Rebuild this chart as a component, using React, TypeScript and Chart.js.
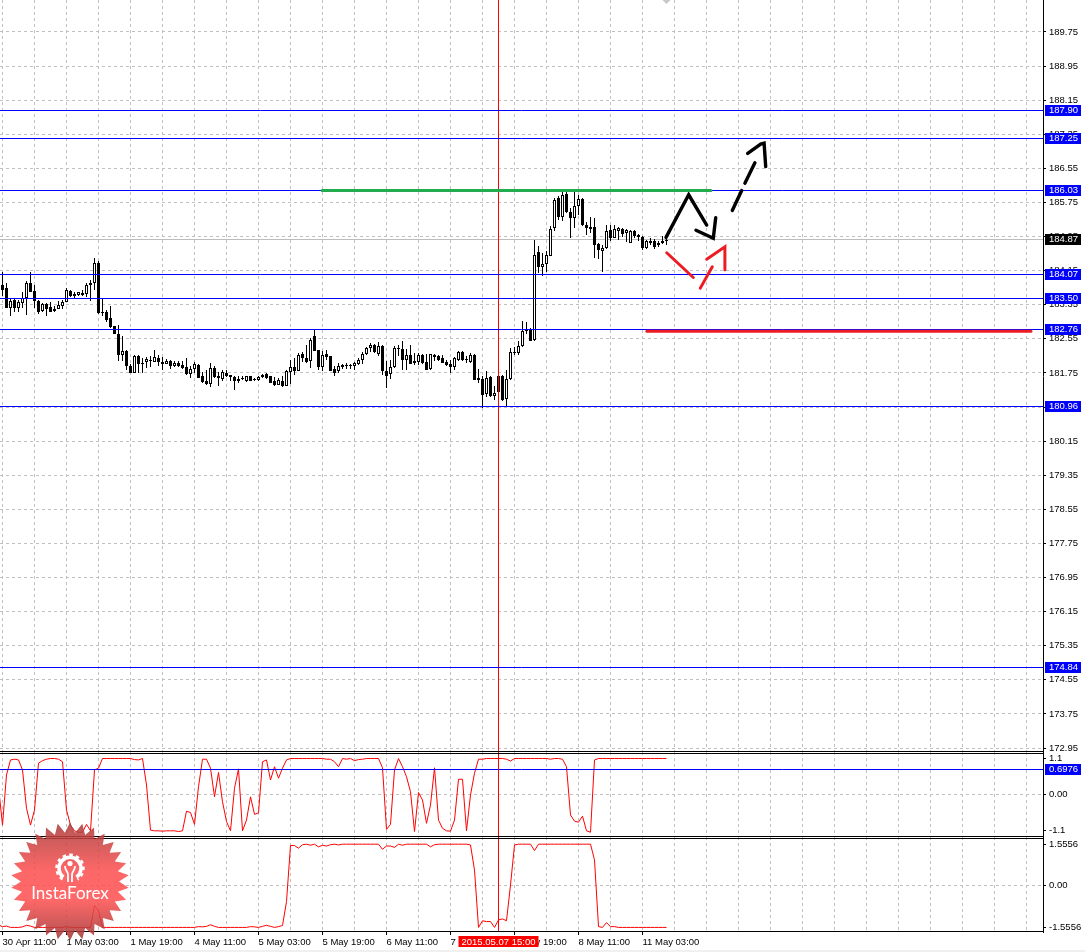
import React, { useEffect, useRef } from "react";
import { Chart, registerables } from "chart.js";
Chart.register(...registerables);

const opens = [183.82,183.74,183.27,183.47,183.27,183.39,183.51,183.87,183.68,183.44,
183.21,183.37,183.30,183.26,183.26,183.33,183.41,183.68,183.55,183.58,
183.62,183.61,183.81,183.86,184.33,183.17,183.19,183.04,182.86,182.67,
182.18,182.27,181.92,181.76,182.15,181.99,182.00,182.06,182.01,182.11,
182.01,181.97,182.04,181.92,181.98,181.94,181.90,181.72,181.84,181.94,
181.68,181.57,181.48,181.86,181.67,181.61,181.75,181.71,181.66,181.55,
181.61,181.55,181.67,181.61,181.58,181.65,181.73,181.67,181.55,181.47,
181.57,181.45,181.77,181.90,181.80,182.20,182.10,182.04,182.62,182.29,
181.88,182.20,182.14,181.85,181.79,181.93,181.94,181.93,181.92,181.96,
182.05,182.19,182.34,182.41,182.19,182.39,181.80,181.72,181.88,182.34,
182.32,182.05,182.18,182.03,182.01,182.17,182.01,181.84,182.18,182.14,
182.09,182.00,181.95,181.88,182.06,182.23,182.07,182.01,182.17,181.58,
181.61,181.26,181.65,181.22,181.67,181.69,181.14,181.61,182.25,182.22,
182.39,182.76,182.78,182.53,184.59,184.23,184.30,184.50,185.14,185.85,
185.41,185.95,185.52,185.38,185.67,185.84,185.23,185.18,185.18,184.77,
184.60,184.67,185.10,184.92,185.09,185.13,185.03,184.81,185.08,184.99,
184.95,184.67,184.84,184.84,184.75,184.84,184.86];

const highs = [184.13,183.86,183.48,183.51,183.47,183.66,183.90,184.13,183.82,183.47,
183.39,183.39,183.41,183.31,183.43,183.45,183.74,183.70,183.66,183.66,
183.69,183.86,183.94,184.45,184.37,183.51,183.22,183.31,182.86,182.88,
182.61,182.29,181.95,182.18,182.18,182.10,182.12,182.15,182.29,182.18,
182.12,182.08,182.06,182.02,182.02,182.02,182.10,181.92,182.00,181.97,
181.78,181.83,181.98,181.92,181.77,181.83,181.81,181.71,181.68,181.67,
181.68,181.68,181.69,181.63,181.68,181.73,181.75,181.69,181.65,181.63,
181.67,181.81,182.05,182.10,182.22,182.24,182.41,182.57,182.76,182.30,
182.26,182.28,182.14,181.91,181.98,181.97,181.98,181.96,182.00,182.09,
182.23,182.37,182.45,182.44,182.47,182.41,182.02,182.05,182.39,182.41,
182.51,182.31,182.41,182.22,182.22,182.19,182.19,182.20,182.19,182.18,
182.18,182.05,182.06,182.12,182.26,182.26,182.14,182.22,182.19,181.85,
181.67,181.79,181.67,181.44,181.67,181.71,181.83,182.34,182.37,182.49,
182.98,182.94,182.80,184.88,184.73,184.56,184.60,185.20,185.85,185.89,
186.01,186.01,185.62,186.01,185.92,185.85,185.29,185.41,185.38,184.80,
184.76,185.23,185.23,185.23,185.17,185.14,185.12,185.11,185.11,185.02,
184.97,184.88,184.91,184.89,184.85,184.97,184.97];

const lows = [183.55,183.27,183.08,183.19,183.17,183.27,183.12,183.66,183.27,183.14,
183.19,183.08,183.17,183.18,183.26,183.26,183.41,183.53,183.51,183.56,
183.55,183.53,183.43,183.69,183.14,183.08,182.94,182.80,182.66,182.04,
182.04,181.83,181.76,181.76,181.76,181.76,181.86,181.90,182.00,181.92,
181.83,181.96,181.84,181.88,181.90,181.85,181.71,181.63,181.75,181.62,
181.51,181.47,181.43,181.64,181.45,181.55,181.65,181.55,181.36,181.51,
181.59,181.53,181.55,181.55,181.57,181.63,181.61,181.51,181.45,181.46,
181.41,181.44,181.48,181.71,181.79,182.00,181.98,181.87,182.26,181.81,
181.79,182.05,181.79,181.69,181.76,181.85,181.85,181.85,181.83,181.93,
181.96,182.16,182.24,182.22,182.14,181.71,181.40,181.61,181.87,182.14,
181.83,181.83,181.96,181.94,181.94,181.96,181.83,181.83,182.02,182.02,
181.98,181.91,181.76,181.83,182.02,182.02,181.98,181.98,181.58,181.51,
180.93,181.19,181.19,181.12,181.30,181.10,180.98,181.59,182.18,182.18,
182.37,182.67,182.51,182.51,184.09,184.02,184.13,184.49,185.07,185.35,
185.31,185.50,184.91,185.15,185.46,185.19,184.99,185.03,184.45,184.43,
184.11,184.66,184.84,184.91,184.86,184.94,184.82,184.80,184.91,184.84,
184.63,184.66,184.76,184.66,184.70,184.77,184.76];

const closes = [183.70,183.27,183.44,183.27,183.42,183.52,183.87,183.66,183.43,183.19,
183.37,183.26,183.19,183.21,183.35,183.42,183.69,183.55,183.60,183.64,
183.59,183.81,183.86,184.33,183.16,183.16,183.00,182.82,182.67,182.16,
182.27,181.92,181.76,182.15,181.97,181.98,182.08,182.02,182.12,182.01,
181.97,182.04,181.92,181.98,181.92,181.86,181.72,181.84,181.97,181.64,
181.54,181.48,181.86,181.65,181.63,181.77,181.67,181.65,181.56,181.61,
181.64,181.67,181.56,181.58,181.65,181.71,181.62,181.51,181.47,181.59,
181.44,181.80,181.90,181.80,182.18,182.09,182.01,182.53,182.27,181.88,
182.18,182.12,181.80,181.76,181.92,181.90,181.91,181.92,181.98,182.06,
182.20,182.34,182.41,182.24,182.39,181.80,181.69,181.88,182.34,182.31,
182.05,182.16,181.97,181.98,182.18,181.99,181.83,182.19,182.12,182.05,
181.98,181.94,181.88,182.10,182.23,182.06,182.06,182.18,181.59,181.63,
181.24,181.62,181.22,181.28,181.30,181.12,181.61,182.25,182.22,182.39,
182.74,182.73,182.51,184.52,184.23,184.30,184.52,185.13,185.81,185.42,
185.93,185.52,185.38,185.67,185.84,185.21,185.14,185.13,184.76,184.63,
184.68,185.08,184.91,185.13,185.15,185.02,185.10,185.07,184.97,184.95,
184.68,184.84,184.80,184.70,184.81,184.81,184.87];

// First entry belongs to the bar just left of the visible window.
const stochValues = [0.21,-0.86,0.54,0.96,0.98,0.96,0.68,-0.39,-0.86,-0.44,
0.87,0.94,0.98,1,1,0.98,0.91,-0.44,-0.86,-1.02,
-1.06,-1.06,-0.84,-1.02,0.68,0.73,
1,1,1,1,1,1,1,1,
0.97,0.96,1,0.26,-1,-1.02,-1.02,-1.03,-1.02,-1.02,-1.02,-1.04,-1.02,
-0.47,-0.51,-0.84,0.21,0.98,0.98,0.73,-0.07,0.61,-0.21,-0.76,-1.02,
0.17,0.71,-1.02,-0.72,-0.07,-0.56,-0.52,0.91,0.96,0.4,0.77,0.45,0.73,0.96,
1,1,1,1,1,1,1,1,1,0.98,0.98,0.91,0.77,
1,0.98,1,0.94,0.97,0.98,1,1,1,1,
0.74,-0.98,-0.84,0.68,1,0.77,0.49,0.07,-1.04,0.05,-0.16,-0.81,-0.3,0.74,-0.72,-0.95,-1.02,-1.03,-0.72,0.42,0.42,-1.02,-0.02,0.59,0.98,0.98,
1,1,1,1,1,0.98,0.93,
1,1,1,1,1,1,1,1,1,0.98,1,1,0.98,0.77,-0.58,-0.75,-0.78,-0.61,-1.02,-1.06,0.96,
1,1,1,1,1,1,1,1,1,1,1,1,1,1,1,1,1,1];

const fisherValues = [-1.47,-1.53,-1.51,-1.56,-1.56,-1.56,-1.54,-1.48,-1.51,
-1.56,-1.56,-1.56,-1.56,-1.56,-1.56,-1.56,-1.56,-1.53,
-1.56,-1.56,-1.56,-1.56,-1.56,-1.56,-0.74,-0.93,
-1.56,-1.56,-1.56,-1.56,-1.56,-1.56,-1.56,-1.56,-1.56,-1.56,-1.56,-1.56,-1.56,-1.56,-1.56,-1.56,-1.56,-1.56,-1.56,-1.56,-1.56,-1.56,-1.56,-1.56,-1.53,-1.54,
-1.52,-1.46,-1.52,-1.56,-1.56,-1.56,-1.56,-1.56,-1.56,-1.56,-1.56,
-1.53,-1.54,-1.56,-1.52,-1.48,-1.52,-1.56,-1.53,-1.49,-0.59,
1.51,1.51,1.41,1.54,1.56,1.52,1.56,1.46,1.52,1.49,1.54,1.56,1.53,
1.56,1.56,1.56,1.56,1.56,1.56,1.56,1.56,1.56,1.56,
1.37,1.49,1.49,1.44,1.56,1.52,1.56,1.56,1.56,1.56,1.56,1.56,1.46,1.54,
1.56,1.56,1.56,1.56,1.56,1.56,1.56,1.56,1.53,0.59,
-1.56,-1.31,-1.34,-1.34,-1.56,-1.28,-1.24,-1.31,0.03,1.53,
1.56,1.56,1.56,1.56,1.32,
1.56,1.56,1.56,1.56,1.56,1.56,1.56,1.56,1.56,1.56,1.56,1.56,1.56,1.56,
0.97,-1.53,-1.56,-1.38,-1.53,-1.53,
-1.56,-1.56,-1.56,-1.56,-1.56,-1.56,-1.56,-1.56,-1.56,-1.56,-1.56,-1.56,-1.56];

const priceTicks = [189.75,188.95,188.15,187.35,186.55,185.75,184.95,184.15,183.35,182.55,181.75,180.95,180.15,179.35,178.55,177.75,176.95,176.15,175.35,174.55,173.75,172.95];
const levelValues = [187.90,187.25,186.03,184.07,183.50,182.76,180.96,174.84];
const bidValue = 184.87;
const stochLevel = 0.6976;
const stochTicks = [0.99,0,-1.0];
const stochTickLabels = ["1.1","0.00","-1.1"];
const fisherTicks = [1.5556,0,-1.5556];
const fisherTickLabels = ["1.5556","0.00","-1.5556"];
const timeLabels = ["30 Apr 11:00","1 May 03:00","1 May 19:00","4 May 11:00","5 May 03:00","5 May 19:00","6 May 11:00","7 May 03:00","7 May 19:00","8 May 11:00","11 May 03:00"];
const gridBars = [0,8,16,24,32,40,48,56,64,72,80,88,96,104,112,120,128,136,144,152,160,168,176,184,192,200,208,216,224,232,240,248,256];
const crosshairBar = 124;
const crosshairLabel = "2015.05.07 15:00";

const greenLine = [{x:79.9,y:186.03},{x:177.1,y:186.03}];
const redLine = [{x:161.1,y:182.73},{x:257.1,y:182.73}];
const blackPens = [
  [{x:165.875,y:184.93},{x:171.55,y:185.93},{x:176.05,y:185.22}],
  [{x:173.375,y:185.10},{x:177.7,y:184.91},{x:178.3,y:185.39}],
  [{x:182.45,y:185.56},{x:184.8,y:186.03}],
  [{x:185.6,y:186.20},{x:188.1,y:186.68}],
  [{x:186.3,y:186.90},{x:189.55,y:187.12},{x:190.4,y:187.14},{x:190.8,y:186.59}],
];
const redPens = [
  [{x:166.05,y:184.57},{x:172.7,y:183.99}],
  [{x:174.45,y:183.74},{x:177.45,y:184.24}],
  [{x:176.05,y:184.42},{x:180.6,y:184.71},{x:180.6,y:184.17}],
];

const FONT = "'Liberation Sans'";
const FONT_SIZE = 9.5;
const GRID = "#c0c0c0";
const X_MIN = -0.625;
const X_MAX = 260.125;
const PRICE_MIN = 172.857;
const PRICE_MAX = 190.5;

const snapPlugin = {
  id: "snap",
  beforeDatasetsDraw(chart: any) {
    chart.data.datasets.forEach((ds: any, i: number) => {
      const meta = chart.getDatasetMeta(i);
      if (ds.snapLine) meta.data.forEach((p: any) => { p.y = Math.floor(p.y) + 0.5; });
      if (ds.snapBar) meta.data.forEach((b: any) => {
        b.y = Math.round(b.y);
        b.base = Math.round(b.base);
        if (b.base === b.y) b.base = b.y + 1;
      });
    });
  },
};

function makeFramePlugin(rows: number[]) {
  return {
    id: "frame",
    afterDatasetsDraw(chart: any) {
      const c = chart.ctx;
      c.save();
      c.fillStyle = "#000";
      rows.forEach((r) => c.fillRect(0, r, 1044, 1));
      c.restore();
    },
  };
}

function makeBoxPlugin(items: { value: number; text: string; color: string }[]) {
  return {
    id: "boxes",
    afterDraw(chart: any) {
      const c = chart.ctx;
      const s = chart.scales.y;
      c.save();
      c.font = `${FONT_SIZE}px ${FONT}`;
      c.textBaseline = "middle";
      c.textAlign = "left";
      items.forEach((it) => {
        const py = Math.floor(s.getPixelForValue(it.value));
        c.fillStyle = it.color;
        c.fillRect(1045, py - 5, 36, 11);
        c.fillStyle = "#fff";
        c.fillText(it.text, 1049, py + 0.5);
      });
      c.restore();
    },
  };
}

const crossBoxPlugin = {
  id: "crossBox",
  afterDraw(chart: any) {
    const c = chart.ctx;
    const px = chart.scales.x.getPixelForValue(crosshairBar);
    c.save();
    c.fillStyle = "#ff0000";
    c.fillRect(px - 40, 99, 80, 11);
    c.fillStyle = "#fff";
    c.font = `${FONT_SIZE}px ${FONT}`;
    c.textAlign = "center";
    c.textBaseline = "middle";
    c.fillText(crosshairLabel, px, 105);
    c.restore();
  },
};

function xScale(showLabels: boolean) {
  return {
    type: "linear",
    min: X_MIN,
    max: X_MAX,
    offset: false,
    afterBuildTicks: (s: any) => { s.ticks = gridBars.map((v) => ({ value: v })); },
    afterFit: (s: any) => { s.height = showLabels ? 20 : 0; s.paddingLeft = 0; s.paddingRight = 0; },
    grid: {
      offset: false,
      color: GRID,
      drawTicks: showLabels,
      tickLength: 3,
      tickColor: (ctx: any) => (ctx.index % 2 === 0 && ctx.index / 2 < timeLabels.length ? "#000" : "transparent"),
    },
    border: { display: false, dash: [3, 3] },
    ticks: showLabels
      ? {
          display: true, autoSkip: false, maxRotation: 0, minRotation: 0, align: "start", padding: 2,
          color: "#000", font: { family: FONT, size: FONT_SIZE },
          callback: (_v: any, i: number) => (i % 2 === 0 ? timeLabels[i / 2] ?? "" : ""),
        }
      : { display: false },
  };
}

function yScale(min: number, max: number, ticks: number[], fmt: (v: number, i: number) => string, gridAll: boolean) {
  return {
    type: "linear",
    position: "right",
    min,
    max,
    afterBuildTicks: (s: any) => { s.ticks = ticks.map((v) => ({ value: v })); },
    afterFit: (s: any) => { s.width = 42; s.paddingTop = 0; s.paddingBottom = 0; },
    grid: {
      color: gridAll ? GRID : (ctx: any) => (ctx.tick && ctx.tick.value === 0 ? GRID : "transparent"),
      tickLength: 3,
      tickColor: "#000",
      tickBorderDash: [],
    },
    border: { display: true, color: "#000", dash: [3, 3] },
    ticks: {
      autoSkip: false, padding: 3, color: "#000", font: { family: FONT, size: FONT_SIZE },
      callback: (v: any, i: number) => fmt(v, i),
    },
  };
}

const baseOptions = (scales: any) => ({
  responsive: false,
  animation: false,
  events: [],
  layout: { padding: 0, autoPadding: false },
  plugins: { legend: { display: false }, tooltip: { enabled: false }, title: { display: false } },
  scales,
});

const hLine = (y: number, color: string, order: number) => ({
  type: "line", data: [{ x: X_MIN, y }, { x: X_MAX, y }], borderColor: color, borderWidth: 1,
  pointRadius: 0, order, snapLine: true,
});
const pen = (pts: any[], color: string, width: number) => ({
  type: "line", data: pts, borderColor: color, borderWidth: width, pointRadius: 0, order: 0,
  borderCapStyle: "round", borderJoinStyle: "miter",
});
const cross = (lo: number, hi: number) => ({
  type: "line", data: [{ x: crosshairBar, y: lo }, { x: crosshairBar, y: hi }],
  borderColor: "#ff0000", borderWidth: 1, pointRadius: 0, order: 1,
});

const STAR_POINTS = 30;
const starPolygon = Array.from({ length: STAR_POINTS * 2 }, (_, k) => {
  const r = k % 2 === 0 ? 59 : 49;
  const a = (Math.PI * k) / STAR_POINTS - Math.PI / 2;
  return `${(70 + r * Math.cos(a)).toFixed(1)},${(881.5 + r * Math.sin(a)).toFixed(1)}`;
}).join(" ");

export default function App() {
  const r1 = useRef<HTMLCanvasElement>(null);
  const r2 = useRef<HTMLCanvasElement>(null);
  const r3 = useRef<HTMLCanvasElement>(null);

  useEffect(() => {
    const idx = opens.map((_, i) => i);
    const main = new Chart(r1.current as any, {
      type: "bar",
      data: {
        datasets: [
          hLine(bidValue, "#bdbdbd", 5),
          ...levelValues.map((v) => hLine(v, "#0000ff", 1)),
          {
            type: "bar",
            data: idx.map((i) => ({ x: i, y: [lows[i], highs[i]] })),
            backgroundColor: "#000", borderWidth: 0, barThickness: 1, maxBarThickness: 1,
            grouped: false, inflateAmount: 0, order: 4, snapBar: true,
          },
          {
            type: "bar",
            data: idx.map((i) => ({ x: i, y: [opens[i], closes[i]] })),
            backgroundColor: idx.map((i) => (closes[i] > opens[i] ? "#fff" : "#000")),
            borderColor: "#000", borderWidth: 1, borderSkipped: false, barThickness: 3, maxBarThickness: 3,
            grouped: false, inflateAmount: 0, order: 3, snapBar: true,
          },
          cross(PRICE_MIN, PRICE_MAX),
          pen(greenLine, "#22ac4e", 3),
          pen(redLine, "#ed1c24", 3),
          ...blackPens.map((p) => pen(p, "#000", 3.4)),
          ...redPens.map((p) => pen(p, "#ed1c24", 3)),
          {
            type: "line", data: [{ x: 166, y: PRICE_MAX }], showLine: false, pointStyle: "rectRot", pointRadius: 4,
            pointBackgroundColor: "#c8c8c8", pointBorderWidth: 0, order: 0,
          },
        ] as any,
      },
      options: baseOptions({
        x: xScale(false),
        y: yScale(PRICE_MIN, PRICE_MAX, priceTicks, (v) => Number(v).toFixed(2), true),
      }) as any,
      plugins: [snapPlugin, makeFramePlugin([751]), makeBoxPlugin([
        ...levelValues.map((v) => ({ value: v, text: v.toFixed(2), color: "#0000ff" })),
        { value: bidValue, text: bidValue.toFixed(2), color: "#000" },
      ])] as any,
    });

    const stoch = new Chart(r2.current as any, {
      type: "line",
      data: {
        datasets: [
          hLine(stochLevel, "#0000ff", 2),
          {
            data: stochValues.map((y, i) => ({ x: i - 1, y })), borderColor: "#ff0000", borderWidth: 1,
            pointRadius: 0, tension: 0, order: 3,
          },
          cross(-1.1927, 1.1816),
        ] as any,
      },
      options: baseOptions({
        x: xScale(false),
        y: yScale(-1.1927, 1.1816, stochTicks, (_v, i) => stochTickLabels[i], false),
      }) as any,
      plugins: [snapPlugin, makeFramePlugin([1, 84]), makeBoxPlugin([{ value: stochLevel, text: stochLevel.toFixed(4), color: "#0000ff" }])] as any,
    });

    const fisher = new Chart(r3.current as any, {
      type: "line",
      data: {
        datasets: [
          {
            data: fisherValues.map((y, i) => ({ x: i - 1, y })), borderColor: "#ff0000", borderWidth: 1,
            pointRadius: 0, tension: 0, order: 3,
          },
          cross(-1.7316, 1.829),
        ] as any,
      },
      options: baseOptions({
        x: xScale(true),
        y: yScale(-1.7316, 1.829, fisherTicks, (_v, i) => fisherTickLabels[i], false),
      }) as any,
      plugins: [makeFramePlugin([1, 94]), crossBoxPlugin] as any,
    });

    return () => { main.destroy(); stoch.destroy(); fisher.destroy(); };
  }, []);

  const abs = (top: number, h: number): React.CSSProperties => ({ position: "absolute", left: 0, top, width: 1085, height: h, display: "block" });

  return (
    <div style={{ position: "absolute", left: 0, top: 0, width: 1085, height: 952, overflow: "hidden", background: "#fff" }}>
      <canvas ref={r1} width={1085} height={752} style={abs(0, 752)} />
      <canvas ref={r2} width={1085} height={85} style={abs(752, 85)} />
      <canvas ref={r3} width={1085} height={115} style={abs(837, 115)} />
      <div style={{ position: "absolute", left: 0, top: 950, width: 1085, height: 2, background: "#f0f0f0" }} />
      <svg width={1085} height={952} style={{ position: "absolute", left: 0, top: 0, pointerEvents: "none" }}>
        <defs>
          <linearGradient id="starFill" x1="0" y1="0" x2="0" y2="1">
            <stop offset="0" stopColor="#a83a3a" />
            <stop offset="0.4" stopColor="#fb4e4e" />
            <stop offset="0.65" stopColor="#ff4f4f" />
            <stop offset="1" stopColor="#a03434" />
          </linearGradient>
        </defs>
        <polygon points={starPolygon} fill="url(#starFill)" opacity={0.86} />
        <path d="M63.5 877.2 A11 11 0 1 1 76.5 877.2" fill="none" stroke="#fff" strokeWidth={3.5} />
        <path d="M62.5 879.5 A13.5 13.5 0 1 1 77.5 879.5" fill="none" stroke="#fff" strokeWidth={2.5} strokeDasharray="3.5 3.2" />
        <circle cx={70} cy={863.5} r={2.6} fill="#fff" />
        <path d="M65 866 C65 871 68 871 68 875 L68 882 M75 866 C75 871 72 871 72 875 L72 882" fill="none" stroke="#fff" strokeWidth={1.8} />
        <text x={70} y={899} textAnchor="middle" fill="#fff" fontFamily="Lato" fontSize={17}>InstaForex</text>
      </svg>
    </div>
  );
}
